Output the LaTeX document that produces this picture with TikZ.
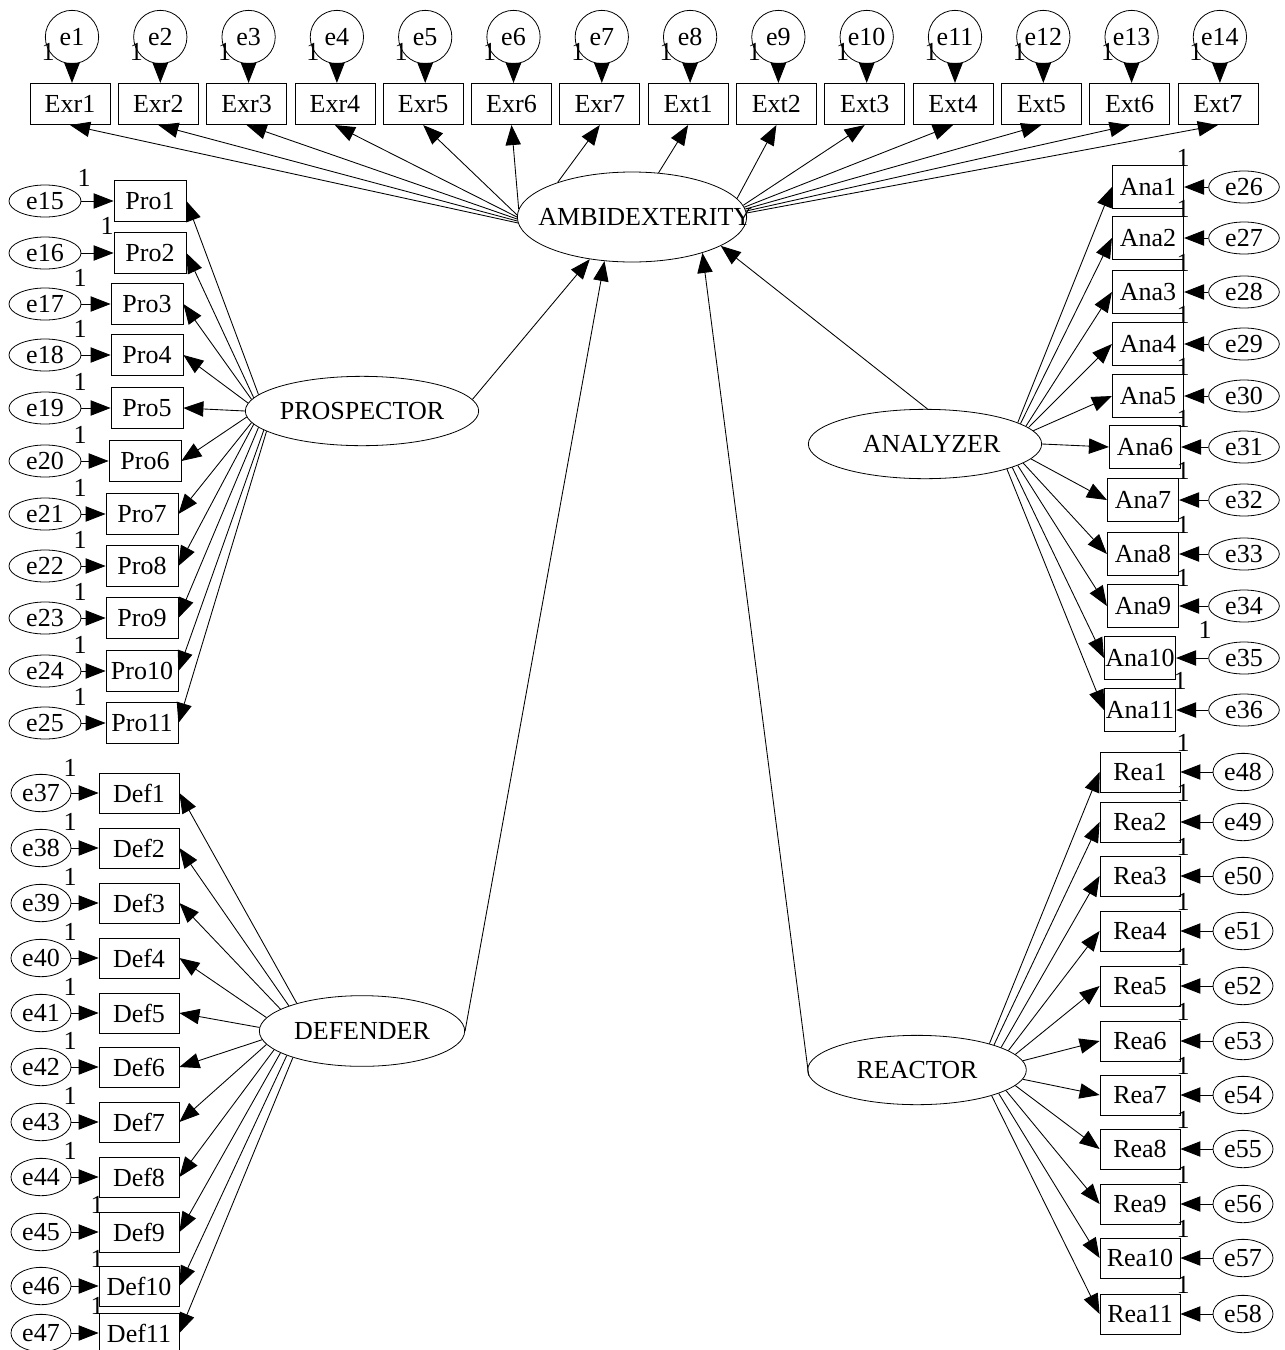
\documentclass[tikz,border=0pt]{standalone}
\usepackage{fontspec}
\setmainfont{Liberation Serif}
\usetikzlibrary{arrows.meta, shapes.geometric}

\begin{document}
\begin{tikzpicture}[
  x=0.75pt, y=-0.75pt,
  every node/.style={font=\fontsize{19.5}{22}\selectfont, inner sep=0pt},
  obs/.style={draw, line width=0.6pt, minimum width=#1, minimum height=31pt},
  errc/.style={draw, circle, line width=0.6pt, minimum size=40pt},
  errl/.style={draw, ellipse, line width=0.6pt, minimum width=#1, minimum height=24pt},
  latent/.style={draw, ellipse, line width=0.6pt, minimum width=#1, minimum height=52pt},
  load/.style={line width=0.65pt, -{Triangle[length=15pt, width=11.5pt]}},
  one/.style={inner sep=0pt}
]
  \useasboundingbox (0,0) rectangle (1285,1350);

  % latent variables
  \node[latent=172pt, minimum height=67.5pt, label={[xshift=10pt]center:AMBIDEXTERITY}] (amb) at (632,217) {};
  \node[latent=175pt] (pros) at (362,411) {PROSPECTOR};
  \node[latent=175pt, label={[xshift=5pt]center:ANALYZER}] (ana) at (925,444) {};
  \node[latent=154pt, minimum height=53pt] (def) at (362,1031) {DEFENDER};
  \node[latent=164pt] (rea) at (917,1070) {REACTOR};

  % exploration / exploitation items
  \foreach \lbl [count=\i] in {Exr1,Exr2,Exr3,Exr4,Exr5,Exr6,Exr7,Ext1,Ext2,Ext3,Ext4,Ext5,Ext6,Ext7} {
    \node[obs=60pt] (\lbl) at ({70+88.3*(\i-1)},104) {\lbl};
    \node[errc] (e\i) at ({72+88.3*(\i-1)},37) {e\i};
    \node[one] (w\i) at ({48+88.3*(\i-1)},52) {1};
    \draw[load] (e\i) -- (e\i |- \lbl.north);
  }
  \foreach \lbl/\a in {Exr1/183,Exr2/182,Exr3/181,Exr4/180,Exr5/179,Exr6/176,Exr7/155,
                       Ext1/59,Ext2/10,Ext3/6,Ext4/5,Ext5/4,Ext6/3,Ext7/2}
    \draw[load] (amb.\a) -- (\lbl.south);

  % prospector items
  \foreach \i/\xx/\yy/\a/\wx/\wy in {1/150/201/171/84/178, 2/150/253/173/107/226, 3/147/304/174/80/278,
      4/147/355/176/80/329, 5/147/408/180/80/382, 6/145/461/183/80/435, 7/142/514/186/80/488,
      8/142/566/187/80/540, 9/142/618/189/80/592, 10/142/671/191/80/645, 11/142/723/192/80/697} {
    \pgfmathtruncatemacro\ee{\i+14}
    \node[obs=54pt] (Pro\i) at (\xx,\yy) {Pro\i};
    \node[errl=54pt] (e\ee) at (45,\yy) {e\ee};
    \node[one] (w\ee) at (\wx,\wy) {1};
    \draw[load] (e\ee) -- (Pro\i);
    \draw[load] (pros.\a) -- (Pro\i.east);
  }

  % analyzer items
  \foreach \i/\xx/\yy/\a/\wx/\wy in {1/1148/187/13/1183/158, 2/1148/238/12/1183/209, 3/1148/292/10.5/1183/263,
      4/1148/344/9/1183/315, 5/1148/396/7/1183/367, 6/1145/447/0/1183/419, 7/1143/500/352/1183/471,
      8/1143/554/349/1183/525, 9/1143/606/347/1183/578, 10/1140/658/345/1205/630, 11/1140/710/343/1180/681} {
    \pgfmathtruncatemacro\ee{\i+25}
    \node[obs=53.5pt, minimum height=32pt] (Ana\i) at (\xx,\yy) {Ana\i};
    \node[errl=53pt] (e\ee) at (1244,\yy) {e\ee};
    \node[one] (w\ee) at (\wx,\wy) {1};
    \draw[load] (e\ee) -- (Ana\i);
    \draw[load] (ana.\a) -- (Ana\i.west);
  }

  % defender items
  \foreach \i/\yy/\a/\wx/\wy in {1/793/157/70/768, 2/848/161/70/822, 3/903/165/70/877, 4/958/172/70/932,
      5/1013/178/70/987, 6/1067/185/70/1041, 7/1122/188/70/1096, 8/1177/192/70/1151,
      9/1232/195/97/1205, 10/1286/198/97/1259, 11/1333/201/97/1306} {
    \pgfmathtruncatemacro\ee{\i+36}
    \node[obs=60pt, minimum height=30pt] (Def\i) at (139,\yy) {Def\i};
    \node[errl=45pt, minimum height=28pt] (e\ee) at (41,\yy) {e\ee};
    \node[one] (w\ee) at (\wx,\wy) {1};
    \draw[load] (e\ee) -- (Def\i);
    \draw[load] (def.\a) -- (Def\i.east);
  }

  % reactor items
  \foreach \i/\yy/\a in {1/772/20, 2/822/18, 3/876/15, 4/931/12, 5/986/9, 6/1041/5,
      7/1095/355, 8/1149/351, 9/1204/347, 10/1258/344, 11/1314/341} {
    \pgfmathtruncatemacro\ee{\i+47}
    \node[obs=60pt, minimum height=30pt] (Rea\i) at (1140,\yy) {Rea\i};
    \node[errl=45pt, minimum height=28pt] (e\ee) at (1243,\yy) {e\ee};
    \node[one] (w\ee) at (1183,\yy-29) {1};
    \draw[load] (e\ee) -- (Rea\i);
    \draw[load] (rea.\a) -- (Rea\i.west);
  }

  % structural paths
  \draw[load] (pros.6) -- (amb.225);
  \draw[load] (def.0) -- (amb.238);
  \draw[load] (rea.183) -- (amb.333);
  \draw[load] (ana.86) -- (amb.342);
\end{tikzpicture}
\end{document}
